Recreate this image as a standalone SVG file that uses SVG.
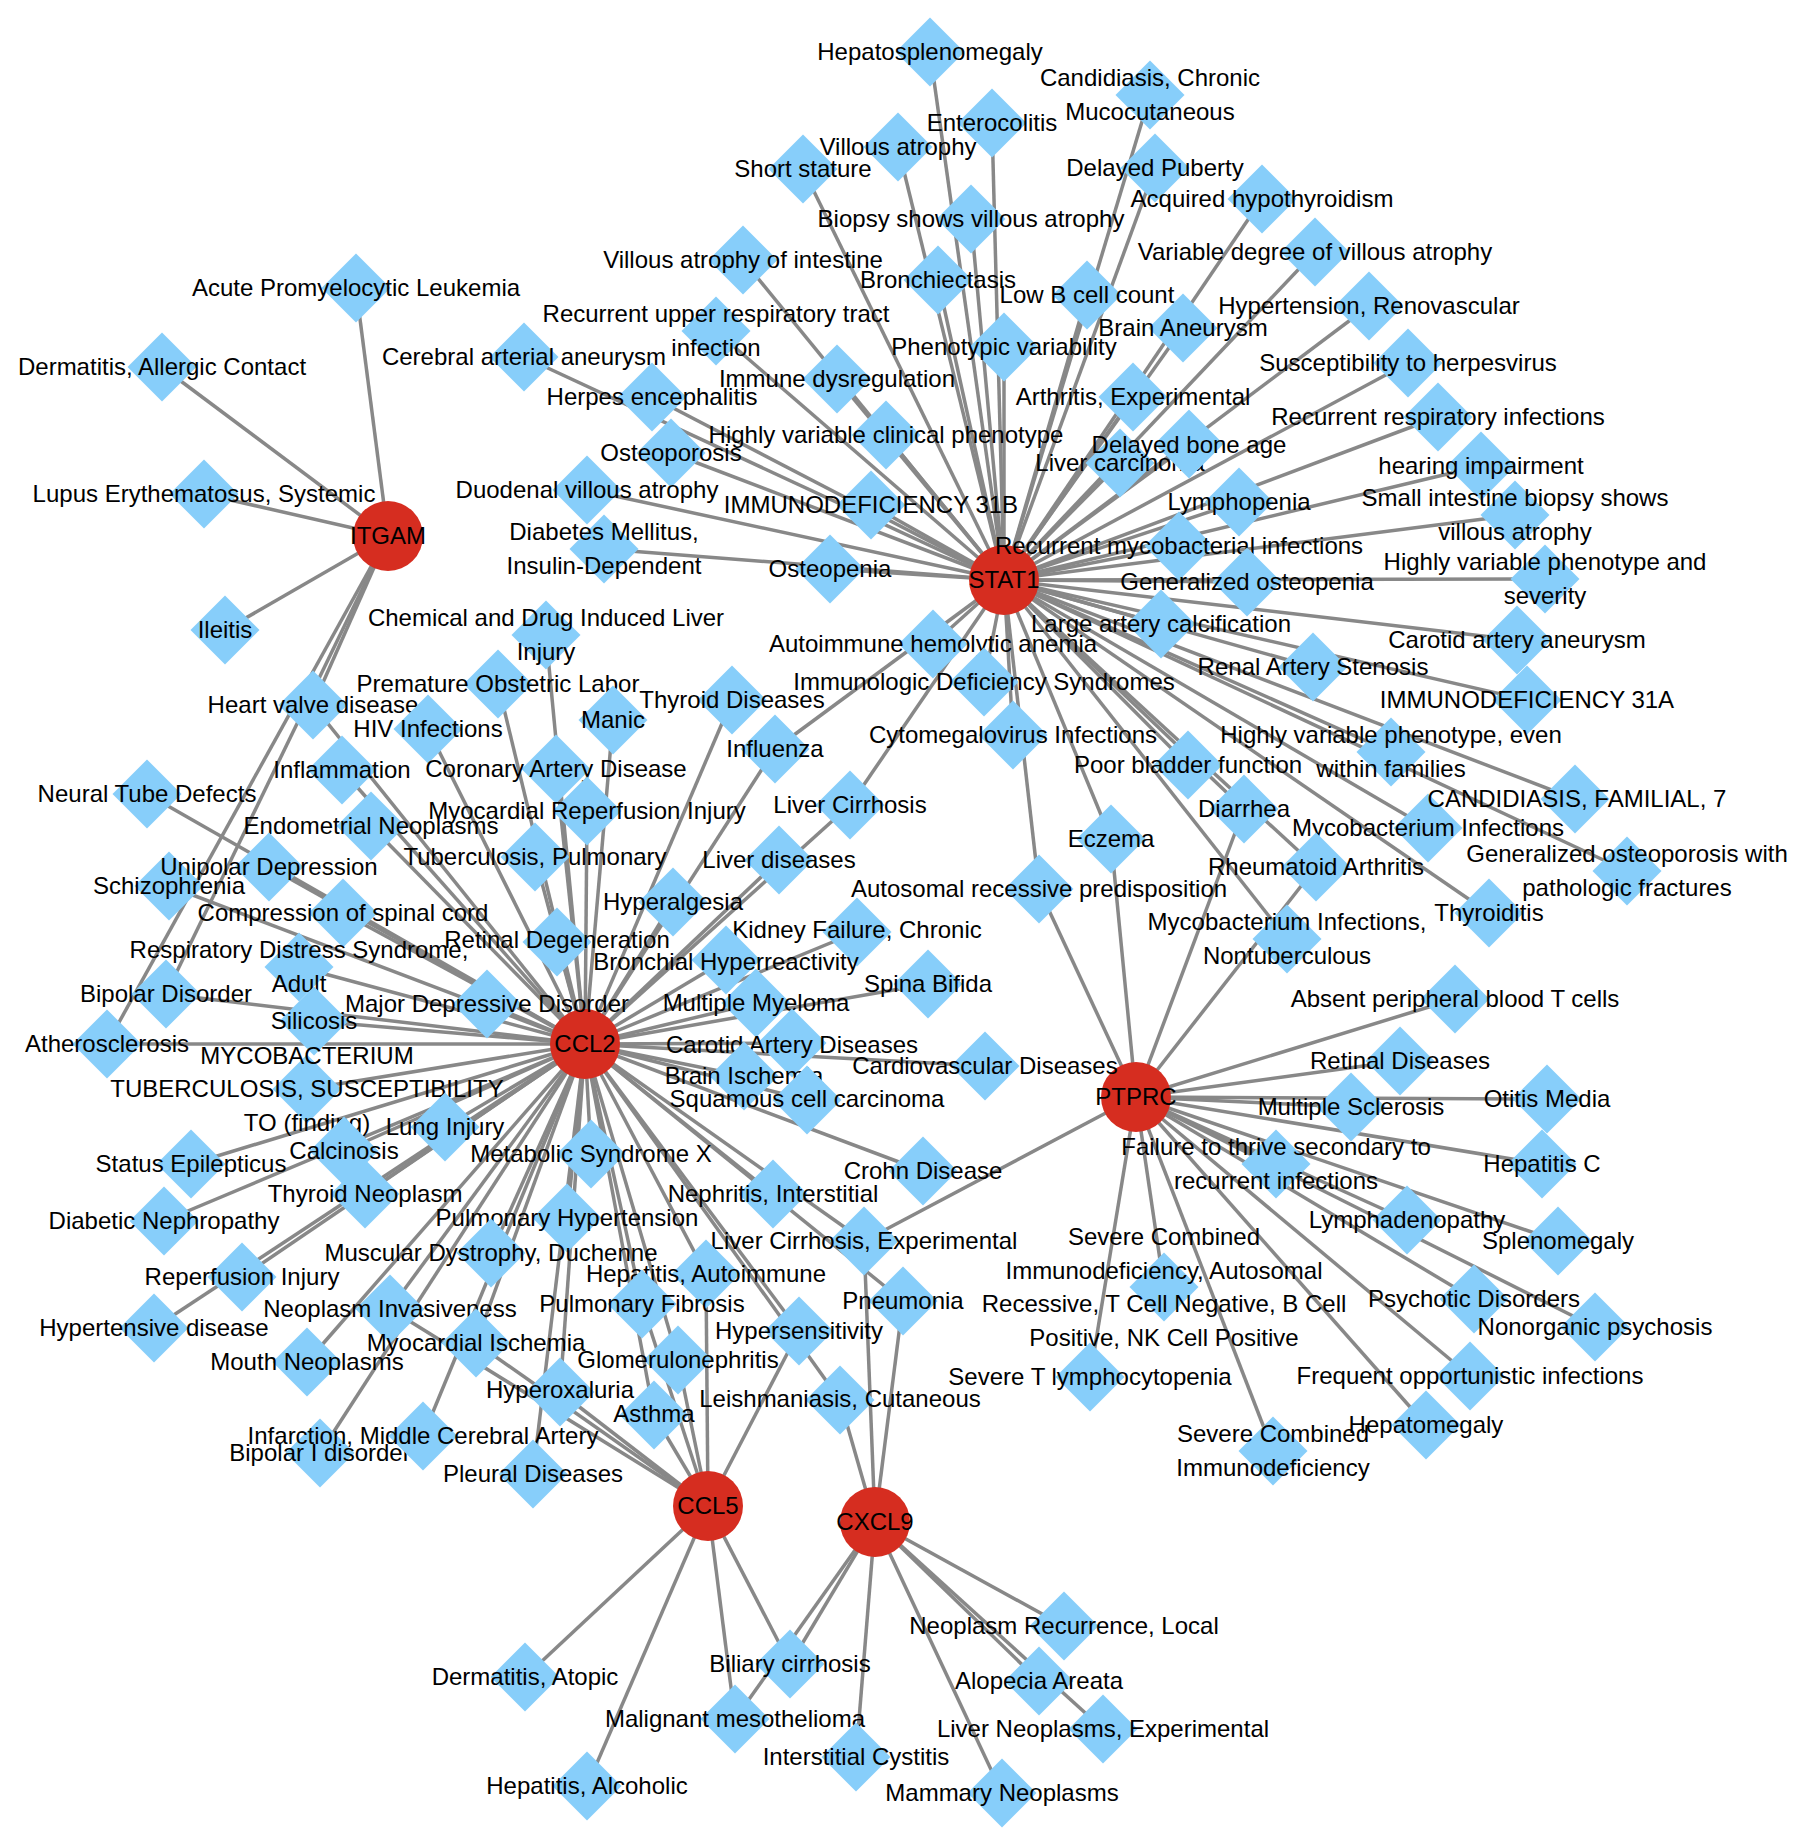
<svg xmlns="http://www.w3.org/2000/svg" xmlns:xlink="http://www.w3.org/1999/xlink" width="1805" height="1847" viewBox="0 0 1805 1847">
<style>
.t{font-family:'Liberation Sans',Arial,Helvetica,sans-serif;font-size:24px;fill:#000;text-anchor:middle}
.hub{fill:#D62D20}
#edges line{stroke:#888;stroke-width:3.5}
</style>
<defs>
<path id="dm" d="M0 -34.5L34.5 0L0 34.5L-34.5 0Z" fill="#87CEFA"/>
</defs>
<rect width="1805" height="1847" fill="#fff"/>
<g id="edges">
<line x1="388" y1="536" x2="356" y2="288"/>
<line x1="388" y1="536" x2="162" y2="367"/>
<line x1="388" y1="536" x2="204" y2="494"/>
<line x1="388" y1="536" x2="225" y2="630"/>
<line x1="388" y1="536" x2="313" y2="705"/>
<line x1="388" y1="536" x2="166" y2="994"/>
<line x1="388" y1="536" x2="107" y2="1044"/>
<line x1="1004" y1="580" x2="930" y2="52"/>
<line x1="1004" y1="580" x2="1150" y2="95"/>
<line x1="1004" y1="580" x2="992" y2="123"/>
<line x1="1004" y1="580" x2="898" y2="147"/>
<line x1="1004" y1="580" x2="803" y2="169"/>
<line x1="1004" y1="580" x2="1155" y2="168"/>
<line x1="1004" y1="580" x2="1262" y2="199"/>
<line x1="1004" y1="580" x2="971" y2="219"/>
<line x1="1004" y1="580" x2="1315" y2="252"/>
<line x1="1004" y1="580" x2="743" y2="260"/>
<line x1="1004" y1="580" x2="938" y2="280"/>
<line x1="1004" y1="580" x2="1087" y2="295"/>
<line x1="1004" y1="580" x2="1369" y2="306"/>
<line x1="1004" y1="580" x2="716" y2="331"/>
<line x1="1004" y1="580" x2="1183" y2="328"/>
<line x1="1004" y1="580" x2="1004" y2="347"/>
<line x1="1004" y1="580" x2="524" y2="357"/>
<line x1="1004" y1="580" x2="1408" y2="363"/>
<line x1="1004" y1="580" x2="837" y2="379"/>
<line x1="1004" y1="580" x2="652" y2="397"/>
<line x1="1004" y1="580" x2="1133" y2="397"/>
<line x1="1004" y1="580" x2="1438" y2="417"/>
<line x1="1004" y1="580" x2="886" y2="435"/>
<line x1="1004" y1="580" x2="1189" y2="444"/>
<line x1="1004" y1="580" x2="671" y2="453"/>
<line x1="1004" y1="580" x2="1120" y2="463"/>
<line x1="1004" y1="580" x2="1481" y2="466"/>
<line x1="1004" y1="580" x2="587" y2="490"/>
<line x1="1004" y1="580" x2="1239" y2="502"/>
<line x1="1004" y1="580" x2="871" y2="505"/>
<line x1="1004" y1="580" x2="1515" y2="515"/>
<line x1="1004" y1="580" x2="1179" y2="546"/>
<line x1="1004" y1="580" x2="604" y2="549"/>
<line x1="1004" y1="580" x2="830" y2="569"/>
<line x1="1004" y1="580" x2="1545" y2="579"/>
<line x1="1004" y1="580" x2="1247" y2="582"/>
<line x1="1004" y1="580" x2="1161" y2="624"/>
<line x1="1004" y1="580" x2="1517" y2="640"/>
<line x1="1004" y1="580" x2="933" y2="644"/>
<line x1="1004" y1="580" x2="1313" y2="667"/>
<line x1="1004" y1="580" x2="984" y2="682"/>
<line x1="1004" y1="580" x2="1527" y2="700"/>
<line x1="1004" y1="580" x2="1013" y2="735"/>
<line x1="1004" y1="580" x2="1391" y2="752"/>
<line x1="1004" y1="580" x2="1188" y2="765"/>
<line x1="1004" y1="580" x2="1575" y2="799"/>
<line x1="1004" y1="580" x2="1244" y2="809"/>
<line x1="1004" y1="580" x2="1428" y2="828"/>
<line x1="1004" y1="580" x2="1111" y2="839"/>
<line x1="1004" y1="580" x2="1316" y2="867"/>
<line x1="1004" y1="580" x2="1627" y2="871"/>
<line x1="1004" y1="580" x2="1039" y2="889"/>
<line x1="1004" y1="580" x2="1489" y2="913"/>
<line x1="1004" y1="580" x2="1287" y2="939"/>
<line x1="1004" y1="580" x2="775" y2="749"/>
<line x1="1004" y1="580" x2="850" y2="805"/>
<line x1="1136" y1="1097" x2="1455" y2="999"/>
<line x1="1136" y1="1097" x2="1400" y2="1061"/>
<line x1="1136" y1="1097" x2="1547" y2="1099"/>
<line x1="1136" y1="1097" x2="1351" y2="1107"/>
<line x1="1136" y1="1097" x2="1542" y2="1164"/>
<line x1="1136" y1="1097" x2="1276" y2="1164"/>
<line x1="1136" y1="1097" x2="1407" y2="1220"/>
<line x1="1136" y1="1097" x2="1558" y2="1241"/>
<line x1="1136" y1="1097" x2="1164" y2="1287"/>
<line x1="1136" y1="1097" x2="1474" y2="1299"/>
<line x1="1136" y1="1097" x2="1595" y2="1327"/>
<line x1="1136" y1="1097" x2="1470" y2="1376"/>
<line x1="1136" y1="1097" x2="1090" y2="1377"/>
<line x1="1136" y1="1097" x2="1426" y2="1425"/>
<line x1="1136" y1="1097" x2="1273" y2="1451"/>
<line x1="1136" y1="1097" x2="1244" y2="809"/>
<line x1="1136" y1="1097" x2="1111" y2="839"/>
<line x1="1136" y1="1097" x2="1316" y2="867"/>
<line x1="1136" y1="1097" x2="1039" y2="889"/>
<line x1="1136" y1="1097" x2="864" y2="1241"/>
<line x1="585" y1="1044" x2="546" y2="635"/>
<line x1="585" y1="1044" x2="498" y2="684"/>
<line x1="585" y1="1044" x2="313" y2="705"/>
<line x1="585" y1="1044" x2="732" y2="700"/>
<line x1="585" y1="1044" x2="613" y2="720"/>
<line x1="585" y1="1044" x2="428" y2="729"/>
<line x1="585" y1="1044" x2="775" y2="749"/>
<line x1="585" y1="1044" x2="556" y2="769"/>
<line x1="585" y1="1044" x2="342" y2="770"/>
<line x1="585" y1="1044" x2="147" y2="794"/>
<line x1="585" y1="1044" x2="850" y2="805"/>
<line x1="585" y1="1044" x2="587" y2="811"/>
<line x1="585" y1="1044" x2="371" y2="826"/>
<line x1="585" y1="1044" x2="535" y2="857"/>
<line x1="585" y1="1044" x2="779" y2="860"/>
<line x1="585" y1="1044" x2="269" y2="867"/>
<line x1="585" y1="1044" x2="169" y2="886"/>
<line x1="585" y1="1044" x2="673" y2="902"/>
<line x1="585" y1="1044" x2="343" y2="913"/>
<line x1="585" y1="1044" x2="857" y2="932"/>
<line x1="585" y1="1044" x2="557" y2="942"/>
<line x1="585" y1="1044" x2="726" y2="960"/>
<line x1="585" y1="1044" x2="299" y2="967"/>
<line x1="585" y1="1044" x2="928" y2="984"/>
<line x1="585" y1="1044" x2="166" y2="994"/>
<line x1="585" y1="1044" x2="756" y2="1003"/>
<line x1="585" y1="1044" x2="487" y2="1004"/>
<line x1="585" y1="1044" x2="314" y2="1021"/>
<line x1="585" y1="1044" x2="792" y2="1043"/>
<line x1="585" y1="1044" x2="107" y2="1044"/>
<line x1="585" y1="1044" x2="985" y2="1066"/>
<line x1="585" y1="1044" x2="744" y2="1076"/>
<line x1="585" y1="1044" x2="307" y2="1089"/>
<line x1="585" y1="1044" x2="807" y2="1100"/>
<line x1="585" y1="1044" x2="445" y2="1127"/>
<line x1="585" y1="1044" x2="344" y2="1151"/>
<line x1="585" y1="1044" x2="591" y2="1154"/>
<line x1="585" y1="1044" x2="191" y2="1164"/>
<line x1="585" y1="1044" x2="923" y2="1171"/>
<line x1="585" y1="1044" x2="365" y2="1194"/>
<line x1="585" y1="1044" x2="773" y2="1194"/>
<line x1="585" y1="1044" x2="567" y2="1218"/>
<line x1="585" y1="1044" x2="164" y2="1221"/>
<line x1="585" y1="1044" x2="864" y2="1241"/>
<line x1="585" y1="1044" x2="491" y2="1253"/>
<line x1="585" y1="1044" x2="706" y2="1274"/>
<line x1="585" y1="1044" x2="242" y2="1277"/>
<line x1="585" y1="1044" x2="903" y2="1301"/>
<line x1="585" y1="1044" x2="642" y2="1304"/>
<line x1="585" y1="1044" x2="390" y2="1309"/>
<line x1="585" y1="1044" x2="154" y2="1328"/>
<line x1="585" y1="1044" x2="799" y2="1331"/>
<line x1="585" y1="1044" x2="476" y2="1343"/>
<line x1="585" y1="1044" x2="678" y2="1360"/>
<line x1="585" y1="1044" x2="307" y2="1362"/>
<line x1="585" y1="1044" x2="560" y2="1392"/>
<line x1="585" y1="1044" x2="840" y2="1400"/>
<line x1="585" y1="1044" x2="654" y2="1415"/>
<line x1="585" y1="1044" x2="423" y2="1436"/>
<line x1="585" y1="1044" x2="320" y2="1453"/>
<line x1="585" y1="1044" x2="533" y2="1474"/>
<line x1="708" y1="1506" x2="706" y2="1274"/>
<line x1="708" y1="1506" x2="642" y2="1304"/>
<line x1="708" y1="1506" x2="390" y2="1309"/>
<line x1="708" y1="1506" x2="799" y2="1331"/>
<line x1="708" y1="1506" x2="476" y2="1343"/>
<line x1="708" y1="1506" x2="678" y2="1360"/>
<line x1="708" y1="1506" x2="560" y2="1392"/>
<line x1="708" y1="1506" x2="654" y2="1415"/>
<line x1="708" y1="1506" x2="525" y2="1677"/>
<line x1="708" y1="1506" x2="587" y2="1786"/>
<line x1="708" y1="1506" x2="790" y2="1664"/>
<line x1="708" y1="1506" x2="735" y2="1719"/>
<line x1="875" y1="1522" x2="864" y2="1241"/>
<line x1="875" y1="1522" x2="903" y2="1301"/>
<line x1="875" y1="1522" x2="840" y2="1400"/>
<line x1="875" y1="1522" x2="790" y2="1664"/>
<line x1="875" y1="1522" x2="735" y2="1719"/>
<line x1="875" y1="1522" x2="1064" y2="1626"/>
<line x1="875" y1="1522" x2="1039" y2="1681"/>
<line x1="875" y1="1522" x2="1103" y2="1729"/>
<line x1="875" y1="1522" x2="856" y2="1757"/>
<line x1="875" y1="1522" x2="1002" y2="1793"/>
</g>
<g id="hubs">
<g id="ITGAM"><circle class="hub" cx="388" cy="536" r="35"/><text class="t" x="388" y="544">ITGAM</text></g>
<g id="STAT1"><circle class="hub" cx="1004" cy="580" r="35"/><text class="t" x="1004" y="588">STAT1</text></g>
<g id="CCL2"><circle class="hub" cx="585" cy="1044" r="35"/><text class="t" x="585" y="1052">CCL2</text></g>
<g id="PTPRC"><circle class="hub" cx="1136" cy="1097" r="35"/><text class="t" x="1136" y="1105">PTPRC</text></g>
<g id="CCL5"><circle class="hub" cx="708" cy="1506" r="35"/><text class="t" x="708" y="1514">CCL5</text></g>
<g id="CXCL9"><circle class="hub" cx="875" cy="1522" r="35"/><text class="t" x="875" y="1530">CXCL9</text></g>
</g>
<g id="diseases">
<g id="i1"><use href="#dm" x="356" y="288"/><text class="t" x="356" y="296">Acute Promyelocytic Leukemia</text></g>
<g id="i2"><use href="#dm" x="162" y="367"/><text class="t" x="162" y="375">Dermatitis, Allergic Contact</text></g>
<g id="i3"><use href="#dm" x="204" y="494"/><text class="t" x="204" y="502">Lupus Erythematosus, Systemic</text></g>
<g id="i4"><use href="#dm" x="225" y="630"/><text class="t" x="225" y="638">Ileitis</text></g>
<g id="s1"><use href="#dm" x="930" y="52"/><text class="t" x="930" y="60">Hepatosplenomegaly</text></g>
<g id="s2"><use href="#dm" x="1150" y="95"/><text class="t" x="1150" y="86">Candidiasis, Chronic<tspan x="1150" dy="33.5">Mucocutaneous</tspan></text></g>
<g id="s3"><use href="#dm" x="992" y="123"/><text class="t" x="992" y="131">Enterocolitis</text></g>
<g id="s4"><use href="#dm" x="898" y="147"/><text class="t" x="898" y="155">Villous atrophy</text></g>
<g id="s5"><use href="#dm" x="803" y="169"/><text class="t" x="803" y="177">Short stature</text></g>
<g id="s6"><use href="#dm" x="1155" y="168"/><text class="t" x="1155" y="176">Delayed Puberty</text></g>
<g id="s7"><use href="#dm" x="1262" y="199"/><text class="t" x="1262" y="207">Acquired hypothyroidism</text></g>
<g id="s8"><use href="#dm" x="971" y="219"/><text class="t" x="971" y="227">Biopsy shows villous atrophy</text></g>
<g id="s9"><use href="#dm" x="1315" y="252"/><text class="t" x="1315" y="260">Variable degree of villous atrophy</text></g>
<g id="s10"><use href="#dm" x="743" y="260"/><text class="t" x="743" y="268">Villous atrophy of intestine</text></g>
<g id="s11"><use href="#dm" x="938" y="280"/><text class="t" x="938" y="288">Bronchiectasis</text></g>
<g id="s12"><use href="#dm" x="1087" y="295"/><text class="t" x="1087" y="303">Low B cell count</text></g>
<g id="s13"><use href="#dm" x="1369" y="306"/><text class="t" x="1369" y="314">Hypertension, Renovascular</text></g>
<g id="s14"><use href="#dm" x="716" y="331"/><text class="t" x="716" y="322">Recurrent upper respiratory tract<tspan x="716" dy="33.5">infection</tspan></text></g>
<g id="s15"><use href="#dm" x="1183" y="328"/><text class="t" x="1183" y="336">Brain Aneurysm</text></g>
<g id="s16"><use href="#dm" x="1004" y="347"/><text class="t" x="1004" y="355">Phenotypic variability</text></g>
<g id="s17"><use href="#dm" x="524" y="357"/><text class="t" x="524" y="365">Cerebral arterial aneurysm</text></g>
<g id="s18"><use href="#dm" x="1408" y="363"/><text class="t" x="1408" y="371">Susceptibility to herpesvirus</text></g>
<g id="s19"><use href="#dm" x="837" y="379"/><text class="t" x="837" y="387">Immune dysregulation</text></g>
<g id="s20"><use href="#dm" x="652" y="397"/><text class="t" x="652" y="405">Herpes encephalitis</text></g>
<g id="s21"><use href="#dm" x="1133" y="397"/><text class="t" x="1133" y="405">Arthritis, Experimental</text></g>
<g id="s22"><use href="#dm" x="1438" y="417"/><text class="t" x="1438" y="425">Recurrent respiratory infections</text></g>
<g id="s23"><use href="#dm" x="886" y="435"/><text class="t" x="886" y="443">Highly variable clinical phenotype</text></g>
<g id="s26"><use href="#dm" x="1120" y="463"/><text class="t" x="1120" y="471">Liver carcinoma</text></g>
<g id="s24"><use href="#dm" x="1189" y="444"/><text class="t" x="1189" y="453">Delayed bone age</text></g>
<g id="s25"><use href="#dm" x="671" y="453"/><text class="t" x="671" y="461">Osteoporosis</text></g>
<g id="s27"><use href="#dm" x="1481" y="466"/><text class="t" x="1481" y="474">hearing impairment</text></g>
<g id="s28"><use href="#dm" x="587" y="490"/><text class="t" x="587" y="498">Duodenal villous atrophy</text></g>
<g id="s29"><use href="#dm" x="1239" y="502"/><text class="t" x="1239" y="510">Lymphopenia</text></g>
<g id="s30"><use href="#dm" x="871" y="505"/><text class="t" x="871" y="513">IMMUNODEFICIENCY 31B</text></g>
<g id="s31"><use href="#dm" x="1515" y="515"/><text class="t" x="1515" y="506">Small intestine biopsy shows<tspan x="1515" dy="33.5">villous atrophy</tspan></text></g>
<g id="s32"><use href="#dm" x="1179" y="546"/><text class="t" x="1179" y="554">Recurrent mycobacterial infections</text></g>
<g id="s33"><use href="#dm" x="604" y="549"/><text class="t" x="604" y="540">Diabetes Mellitus,<tspan x="604" dy="33.5">Insulin-Dependent</tspan></text></g>
<g id="s34"><use href="#dm" x="830" y="569"/><text class="t" x="830" y="577">Osteopenia</text></g>
<g id="s35"><use href="#dm" x="1545" y="579"/><text class="t" x="1545" y="570">Highly variable phenotype and<tspan x="1545" dy="33.5">severity</tspan></text></g>
<g id="s36"><use href="#dm" x="1247" y="582"/><text class="t" x="1247" y="590">Generalized osteopenia</text></g>
<g id="s37"><use href="#dm" x="1161" y="624"/><text class="t" x="1161" y="632">Large artery calcification</text></g>
<g id="s38"><use href="#dm" x="1517" y="640"/><text class="t" x="1517" y="648">Carotid artery aneurysm</text></g>
<g id="s39"><use href="#dm" x="933" y="644"/><text class="t" x="933" y="652">Autoimmune hemolytic anemia</text></g>
<g id="s40"><use href="#dm" x="1313" y="667"/><text class="t" x="1313" y="675">Renal Artery Stenosis</text></g>
<g id="s41"><use href="#dm" x="984" y="682"/><text class="t" x="984" y="690">Immunologic Deficiency Syndromes</text></g>
<g id="s42"><use href="#dm" x="1527" y="700"/><text class="t" x="1527" y="708">IMMUNODEFICIENCY 31A</text></g>
<g id="s43"><use href="#dm" x="1013" y="735"/><text class="t" x="1013" y="743">Cytomegalovirus Infections</text></g>
<g id="s44"><use href="#dm" x="1391" y="752"/><text class="t" x="1391" y="743">Highly variable phenotype, even<tspan x="1391" dy="33.5">within families</tspan></text></g>
<g id="s45"><use href="#dm" x="1188" y="765"/><text class="t" x="1188" y="773">Poor bladder function</text></g>
<g id="s47"><use href="#dm" x="1244" y="809"/><text class="t" x="1244" y="817">Diarrhea</text></g>
<g id="s48"><use href="#dm" x="1428" y="828"/><text class="t" x="1428" y="836">Mycobacterium Infections</text></g>
<g id="s46"><use href="#dm" x="1575" y="799"/><text class="t" x="1577" y="807">CANDIDIASIS, FAMILIAL, 7</text></g>
<g id="s49"><use href="#dm" x="1111" y="839"/><text class="t" x="1111" y="847">Eczema</text></g>
<g id="s50"><use href="#dm" x="1316" y="867"/><text class="t" x="1316" y="875">Rheumatoid Arthritis</text></g>
<g id="s51"><use href="#dm" x="1627" y="871"/><text class="t" x="1627" y="862">Generalized osteoporosis with<tspan x="1627" dy="33.5">pathologic fractures</tspan></text></g>
<g id="s52"><use href="#dm" x="1039" y="889"/><text class="t" x="1039" y="897">Autosomal recessive predisposition</text></g>
<g id="s53"><use href="#dm" x="1489" y="913"/><text class="t" x="1489" y="921">Thyroiditis</text></g>
<g id="s54"><use href="#dm" x="1287" y="939"/><text class="t" x="1287" y="930">Mycobacterium Infections,<tspan x="1287" dy="33.5">Nontuberculous</tspan></text></g>
<g id="p1"><use href="#dm" x="1455" y="999"/><text class="t" x="1455" y="1007">Absent peripheral blood T cells</text></g>
<g id="p2"><use href="#dm" x="1400" y="1061"/><text class="t" x="1400" y="1069">Retinal Diseases</text></g>
<g id="p3"><use href="#dm" x="1547" y="1099"/><text class="t" x="1547" y="1107">Otitis Media</text></g>
<g id="p4"><use href="#dm" x="1351" y="1107"/><text class="t" x="1351" y="1115">Multiple Sclerosis</text></g>
<g id="p5"><use href="#dm" x="1542" y="1164"/><text class="t" x="1542" y="1172">Hepatitis C</text></g>
<g id="p6"><use href="#dm" x="1276" y="1164"/><text class="t" x="1276" y="1155">Failure to thrive secondary to<tspan x="1276" dy="33.5">recurrent infections</tspan></text></g>
<g id="p7"><use href="#dm" x="1407" y="1220"/><text class="t" x="1407" y="1228">Lymphadenopathy</text></g>
<g id="p8"><use href="#dm" x="1558" y="1241"/><text class="t" x="1558" y="1249">Splenomegaly</text></g>
<g id="p9"><use href="#dm" x="1164" y="1287"/><text class="t" x="1164" y="1245">Severe Combined<tspan x="1164" dy="33.5">Immunodeficiency, Autosomal</tspan><tspan x="1164" dy="33.5">Recessive, T Cell Negative, B Cell</tspan><tspan x="1164" dy="33.5">Positive, NK Cell Positive</tspan></text></g>
<g id="p10"><use href="#dm" x="1474" y="1299"/><text class="t" x="1474" y="1307">Psychotic Disorders</text></g>
<g id="p11"><use href="#dm" x="1595" y="1327"/><text class="t" x="1595" y="1335">Nonorganic psychosis</text></g>
<g id="p12"><use href="#dm" x="1470" y="1376"/><text class="t" x="1470" y="1384">Frequent opportunistic infections</text></g>
<g id="p13"><use href="#dm" x="1090" y="1377"/><text class="t" x="1090" y="1385">Severe T lymphocytopenia</text></g>
<g id="p14"><use href="#dm" x="1426" y="1425"/><text class="t" x="1426" y="1433">Hepatomegaly</text></g>
<g id="p15"><use href="#dm" x="1273" y="1451"/><text class="t" x="1273" y="1442">Severe Combined<tspan x="1273" dy="33.5">Immunodeficiency</tspan></text></g>
<g id="c1"><use href="#dm" x="546" y="635"/><text class="t" x="546" y="626">Chemical and Drug Induced Liver<tspan x="546" dy="33.5">Injury</tspan></text></g>
<g id="c2"><use href="#dm" x="498" y="684"/><text class="t" x="498" y="692">Premature Obstetric Labor</text></g>
<g id="c3"><use href="#dm" x="313" y="705"/><text class="t" x="313" y="713">Heart valve disease</text></g>
<g id="c4"><use href="#dm" x="732" y="700"/><text class="t" x="732" y="708">Thyroid Diseases</text></g>
<g id="c5"><use href="#dm" x="613" y="720"/><text class="t" x="613" y="728">Manic</text></g>
<g id="c6"><use href="#dm" x="428" y="729"/><text class="t" x="428" y="737">HIV Infections</text></g>
<g id="c7"><use href="#dm" x="775" y="749"/><text class="t" x="775" y="757">Influenza</text></g>
<g id="c8"><use href="#dm" x="556" y="769"/><text class="t" x="556" y="777">Coronary Artery Disease</text></g>
<g id="c9"><use href="#dm" x="342" y="770"/><text class="t" x="342" y="778">Inflammation</text></g>
<g id="c10"><use href="#dm" x="147" y="794"/><text class="t" x="147" y="802">Neural Tube Defects</text></g>
<g id="c11"><use href="#dm" x="850" y="805"/><text class="t" x="850" y="813">Liver Cirrhosis</text></g>
<g id="c12"><use href="#dm" x="587" y="811"/><text class="t" x="587" y="819">Myocardial Reperfusion Injury</text></g>
<g id="c13"><use href="#dm" x="371" y="826"/><text class="t" x="371" y="834">Endometrial Neoplasms</text></g>
<g id="c14"><use href="#dm" x="535" y="857"/><text class="t" x="535" y="865">Tuberculosis, Pulmonary</text></g>
<g id="c15"><use href="#dm" x="779" y="860"/><text class="t" x="779" y="868">Liver diseases</text></g>
<g id="c17"><use href="#dm" x="169" y="886"/><text class="t" x="169" y="894">Schizophrenia</text></g>
<g id="c16"><use href="#dm" x="269" y="867"/><text class="t" x="269" y="875">Unipolar Depression</text></g>
<g id="c18"><use href="#dm" x="673" y="902"/><text class="t" x="673" y="910">Hyperalgesia</text></g>
<g id="c19"><use href="#dm" x="343" y="913"/><text class="t" x="343" y="921">Compression of spinal cord</text></g>
<g id="c20"><use href="#dm" x="857" y="932"/><text class="t" x="857" y="938">Kidney Failure, Chronic</text></g>
<g id="c21"><use href="#dm" x="557" y="942"/><text class="t" x="557" y="948">Retinal Degeneration</text></g>
<g id="c22"><use href="#dm" x="726" y="960"/><text class="t" x="726" y="970">Bronchial Hyperreactivity</text></g>
<g id="c23"><use href="#dm" x="299" y="967"/><text class="t" x="299" y="958">Respiratory Distress Syndrome,<tspan x="299" dy="33.5">Adult</tspan></text></g>
<g id="c24"><use href="#dm" x="928" y="984"/><text class="t" x="928" y="992">Spina Bifida</text></g>
<g id="c25"><use href="#dm" x="166" y="994"/><text class="t" x="166" y="1002">Bipolar Disorder</text></g>
<g id="c26"><use href="#dm" x="756" y="1003"/><text class="t" x="756" y="1011">Multiple Myeloma</text></g>
<g id="c27"><use href="#dm" x="487" y="1004"/><text class="t" x="487" y="1012">Major Depressive Disorder</text></g>
<g id="c28"><use href="#dm" x="314" y="1021"/><text class="t" x="314" y="1029">Silicosis</text></g>
<g id="c29"><use href="#dm" x="792" y="1043"/><text class="t" x="792" y="1053">Carotid Artery Diseases</text></g>
<g id="c30"><use href="#dm" x="107" y="1044"/><text class="t" x="107" y="1052">Atherosclerosis</text></g>
<g id="c31"><use href="#dm" x="985" y="1066"/><text class="t" x="985" y="1074">Cardiovascular Diseases</text></g>
<g id="c32"><use href="#dm" x="744" y="1076"/><text class="t" x="744" y="1084">Brain Ischemia</text></g>
<g id="c33"><use href="#dm" x="307" y="1089"/><text class="t" x="307" y="1063.5">MYCOBACTERIUM<tspan x="307" dy="33.5">TUBERCULOSIS, SUSCEPTIBILITY</tspan><tspan x="307" dy="33.5">TO (finding)</tspan></text></g>
<g id="c34"><use href="#dm" x="807" y="1100"/><text class="t" x="807" y="1107">Squamous cell carcinoma</text></g>
<g id="c35"><use href="#dm" x="445" y="1127"/><text class="t" x="445" y="1135">Lung Injury</text></g>
<g id="c36"><use href="#dm" x="344" y="1151"/><text class="t" x="344" y="1159">Calcinosis</text></g>
<g id="c37"><use href="#dm" x="591" y="1154"/><text class="t" x="591" y="1162">Metabolic Syndrome X</text></g>
<g id="c38"><use href="#dm" x="191" y="1164"/><text class="t" x="191" y="1172">Status Epilepticus</text></g>
<g id="c39"><use href="#dm" x="923" y="1171"/><text class="t" x="923" y="1179">Crohn Disease</text></g>
<g id="c40"><use href="#dm" x="365" y="1194"/><text class="t" x="365" y="1202">Thyroid Neoplasm</text></g>
<g id="c41"><use href="#dm" x="773" y="1194"/><text class="t" x="773" y="1202">Nephritis, Interstitial</text></g>
<g id="c42"><use href="#dm" x="567" y="1218"/><text class="t" x="567" y="1226">Pulmonary Hypertension</text></g>
<g id="c43"><use href="#dm" x="164" y="1221"/><text class="t" x="164" y="1229">Diabetic Nephropathy</text></g>
<g id="c44"><use href="#dm" x="864" y="1241"/><text class="t" x="864" y="1249">Liver Cirrhosis, Experimental</text></g>
<g id="c45"><use href="#dm" x="491" y="1253"/><text class="t" x="491" y="1261">Muscular Dystrophy, Duchenne</text></g>
<g id="c46"><use href="#dm" x="706" y="1274"/><text class="t" x="706" y="1282">Hepatitis, Autoimmune</text></g>
<g id="c47"><use href="#dm" x="242" y="1277"/><text class="t" x="242" y="1285">Reperfusion Injury</text></g>
<g id="c48"><use href="#dm" x="903" y="1301"/><text class="t" x="903" y="1309">Pneumonia</text></g>
<g id="c49"><use href="#dm" x="642" y="1304"/><text class="t" x="642" y="1312">Pulmonary Fibrosis</text></g>
<g id="c50"><use href="#dm" x="390" y="1309"/><text class="t" x="390" y="1317">Neoplasm Invasiveness</text></g>
<g id="c51"><use href="#dm" x="154" y="1328"/><text class="t" x="154" y="1336">Hypertensive disease</text></g>
<g id="c52"><use href="#dm" x="799" y="1331"/><text class="t" x="799" y="1339">Hypersensitivity</text></g>
<g id="c53"><use href="#dm" x="476" y="1343"/><text class="t" x="476" y="1351">Myocardial Ischemia</text></g>
<g id="c54"><use href="#dm" x="678" y="1360"/><text class="t" x="678" y="1368">Glomerulonephritis</text></g>
<g id="c55"><use href="#dm" x="307" y="1362"/><text class="t" x="307" y="1370">Mouth Neoplasms</text></g>
<g id="c56"><use href="#dm" x="560" y="1392"/><text class="t" x="560" y="1398">Hyperoxaluria</text></g>
<g id="c57"><use href="#dm" x="840" y="1400"/><text class="t" x="840" y="1407">Leishmaniasis, Cutaneous</text></g>
<g id="c58"><use href="#dm" x="654" y="1415"/><text class="t" x="654" y="1422">Asthma</text></g>
<g id="c60"><use href="#dm" x="320" y="1453"/><text class="t" x="320" y="1461">Bipolar I disorder</text></g>
<g id="c59"><use href="#dm" x="423" y="1436"/><text class="t" x="423" y="1444">Infarction, Middle Cerebral Artery</text></g>
<g id="c61"><use href="#dm" x="533" y="1474"/><text class="t" x="533" y="1482">Pleural Diseases</text></g>
<g id="d1"><use href="#dm" x="525" y="1677"/><text class="t" x="525" y="1685">Dermatitis, Atopic</text></g>
<g id="d2"><use href="#dm" x="587" y="1786"/><text class="t" x="587" y="1794">Hepatitis, Alcoholic</text></g>
<g id="d3"><use href="#dm" x="790" y="1664"/><text class="t" x="790" y="1672">Biliary cirrhosis</text></g>
<g id="d4"><use href="#dm" x="735" y="1719"/><text class="t" x="735" y="1727">Malignant mesothelioma</text></g>
<g id="x1"><use href="#dm" x="1064" y="1626"/><text class="t" x="1064" y="1634">Neoplasm Recurrence, Local</text></g>
<g id="x2"><use href="#dm" x="1039" y="1681"/><text class="t" x="1039" y="1689">Alopecia Areata</text></g>
<g id="x3"><use href="#dm" x="1103" y="1729"/><text class="t" x="1103" y="1737">Liver Neoplasms, Experimental</text></g>
<g id="x4"><use href="#dm" x="856" y="1757"/><text class="t" x="856" y="1765">Interstitial Cystitis</text></g>
<g id="x5"><use href="#dm" x="1002" y="1793"/><text class="t" x="1002" y="1801">Mammary Neoplasms</text></g>
</g>
</svg>
